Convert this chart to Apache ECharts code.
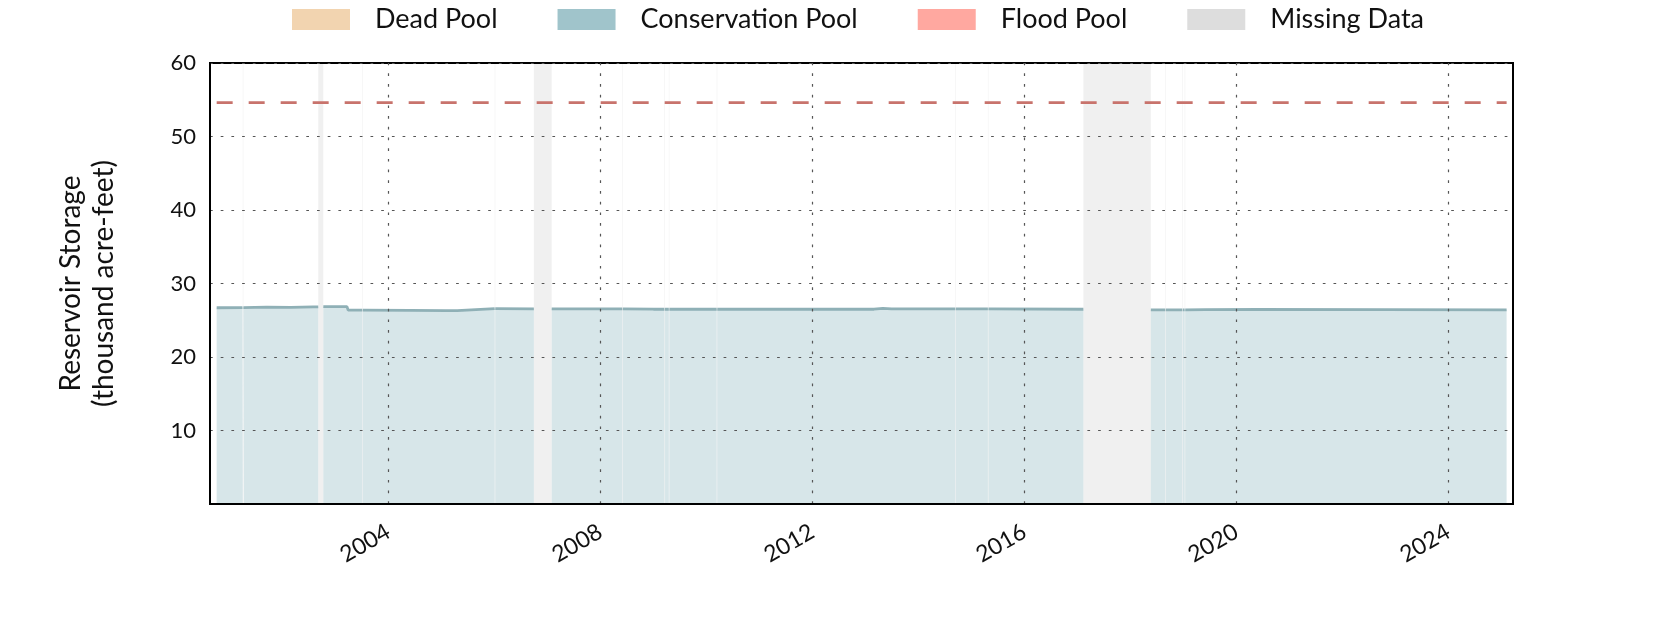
<!DOCTYPE html>
<html><head><meta charset="utf-8">
<script src="https://cdn.jsdelivr.net/npm/echarts@6/dist/echarts.min.js"></script>
<style>html,body{margin:0;padding:0;background:#fff}#c{width:1680px;height:630px}</style>
</head><body><div id="c"></div>
<script>
// ---- data ----
const storageDates = ['2000-10-05','2001-04-01','2001-04-10','2001-09-15','2002-03-01','2002-08-01','2002-09-05',
  '2002-10-10','2003-03-22','2003-03-30','2004-06-01','2005-02-01','2005-04-20','2005-04-30','2006-09-30',
  '2007-01-31','2009-01-01','2013-03-01','2013-05-01','2013-07-01','2017-02-11',
  '2018-05-22','2019-06-01','2020-06-01','2025-02-06'];
const storageValues = [26.7,26.72,26.85,26.78,26.75,26.82,26.82,
  26.85,26.85,26.38,26.35,26.3,26.3,26.57,26.55,
  26.55,26.5,26.5,26.62,26.55,26.5,
  26.4,26.45,26.48,26.4];
const missingStarts = ['2001-04-03','2002-09-05','2003-07-05','2006-01-03','2006-09-30','2008-06-01','2009-03-18',
  '2009-04-17','2010-03-13','2014-09-11','2015-04-25','2017-02-11','2018-08-30','2018-12-23','2019-01-10'];
const missingEnds = ['2001-04-07','2002-10-10','2003-07-09','2006-01-07','2007-01-31','2008-06-05','2009-03-22',
  '2009-04-21','2010-03-17','2014-09-15','2015-04-29','2018-05-22','2018-09-03','2018-12-27','2019-01-14'];
const floodLevel = 54.6;
const deadLevel = 0.1;
const dataStart = '2000-10-05', dataEnd = '2025-02-06';
const axisMin = '2000-08-20', axisMax = '2025-03-22';
const xTickYears = [2004, 2008, 2012, 2016, 2020, 2024];
const yMax = 60, yStep = 10;

// ---- build ----
const t = s => Date.parse(s + 'T00:00:00Z');
function levelAt(ts) {
  let v = storageValues[0];
  for (let i = 0; i < storageDates.length; i++) if (t(storageDates[i]) <= ts) v = storageValues[i];
  return v;
}
let pts = storageDates.map((d, i) => [t(d), storageValues[i]]);
missingStarts.forEach((s, i) => {
  const a = t(s), b = t(missingEnds[i]);
  pts.push([a, levelAt(a)], [(a + b) / 2, null], [b, levelAt(b)]);
});
pts.sort((p, q) => p[0] - q[0]);

const tickVals = xTickYears.map(y => Date.UTC(y, 0, 1));
const FONT = 'Lato';
const gridLine = { type: [2.7, 8], color: '#555', width: 1.2 };

const chart = echarts.init(document.getElementById('c'), null, { renderer: 'canvas' });
chart.setOption({
  animation: false,
  backgroundColor: '#fff',
  grid: { left: 210, right: 167, top: 63, bottom: 126, show: true, borderColor: '#000', borderWidth: 2, backgroundColor: 'transparent' },
  legend: {
    top: 1, left: 287, itemWidth: 58, itemHeight: 21, itemGap: 60, icon: 'rect',
    textStyle: { fontFamily: FONT, fontSize: 27, color: '#111', padding: [0, 0, 0, 20] },
    data: [
      { name: 'Dead Pool', itemStyle: { color: '#f2d4b0', borderWidth: 0 }, lineStyle: { width: 0 } },
      { name: 'Conservation Pool', itemStyle: { color: '#a0c4cb', borderWidth: 0 }, lineStyle: { width: 0 } },
      { name: 'Flood Pool', itemStyle: { color: '#ffa8a0', borderWidth: 0 }, lineStyle: { width: 0 } },
      { name: 'Missing Data', itemStyle: { color: '#dddddd', borderWidth: 0 }, lineStyle: { width: 0 } }
    ]
  },
  xAxis: {
    type: 'value', min: t(axisMin), max: t(axisMax), z: 10,
    axisLine: { show: true, lineStyle: { color: '#000', width: 2 } },
    axisTick: { show: false },
    splitLine: { show: false },
    axisLabel: {
      customValues: tickVals, rotate: 30, margin: 26, fontFamily: FONT, fontSize: 23, color: '#111',
      formatter: v => String(new Date(v).getUTCFullYear())
    }
  },
  yAxis: {
    type: 'value', min: 0, max: yMax, interval: yStep, z: 10,
    name: 'Reservoir Storage\n(thousand acre-feet)', nameLocation: 'middle', nameGap: 90,
    nameTextStyle: { fontFamily: FONT, fontSize: 28, color: '#111', lineHeight: 33 },
    axisLine: { show: true, lineStyle: { color: '#000', width: 2 } },
    axisTick: { show: false },
    axisLabel: { fontFamily: FONT, fontSize: 22, color: '#111', margin: 14, showMinLabel: false },
    splitLine: { show: true, lineStyle: gridLine }
  },
  series: [
    {
      name: 'Missing Data', type: 'line', data: [], silent: true,
      markArea: {
        silent: true, itemStyle: { color: 'rgba(0,0,0,0.06)' },
        data: missingStarts.map((s, i) => [{ xAxis: t(s) }, { xAxis: t(missingEnds[i]) }])
      }
    },
    {
      name: 'Conservation Pool', type: 'line', data: pts, showSymbol: false, connectNulls: false,
      itemStyle: { color: '#a0c4cb' },
      lineStyle: { color: '#8fb0b6', width: 2.8 },
      areaStyle: { color: 'rgba(160,196,203,0.42)', opacity: 1 }
    },
    {
      name: 'Dead Pool', type: 'line', data: [[t(dataStart), deadLevel], [t(dataEnd), deadLevel]], showSymbol: false,
      itemStyle: { color: '#f2d4b0' }, lineStyle: { width: 0 }, areaStyle: { color: '#f2d4b0', opacity: 1 }
    },
    {
      name: 'Flood Pool', type: 'line', data: [[t(dataStart), floodLevel], [t(dataEnd), floodLevel]], showSymbol: false,
      itemStyle: { color: '#ffa8a0' },
      lineStyle: { color: '#c8736c', width: 2.7, type: [16, 16] },
      markLine: {
        silent: true, symbol: 'none', label: { show: false }, lineStyle: gridLine,
        data: tickVals.map(v => ({ xAxis: v }))
      }
    }
  ]
});
</script></body></html>
